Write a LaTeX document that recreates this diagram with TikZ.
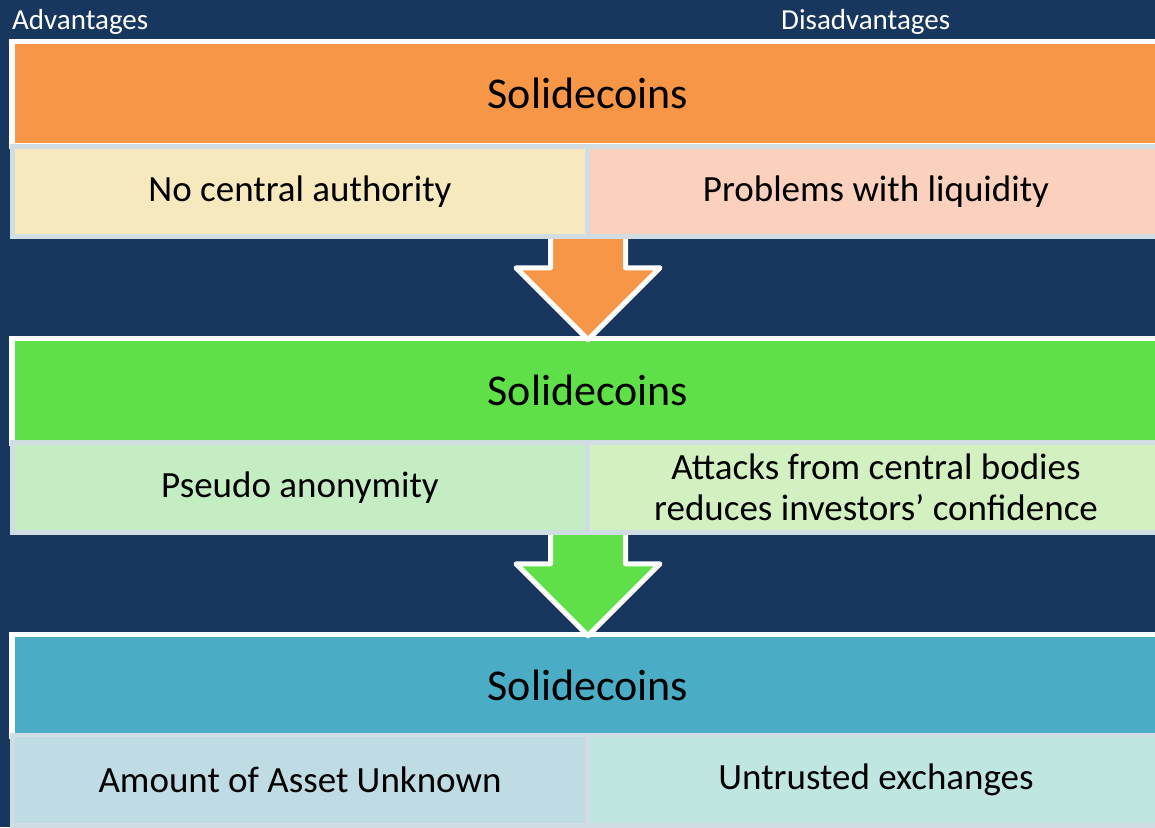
\documentclass[tikz,border=0pt]{standalone}
\usepackage{fontspec}
\setmainfont{Carlito}
\usepackage{tikz}
\usetikzlibrary{calc,positioning}
\definecolor{bgNavy}{RGB}{23,55,94}
\definecolor{stripGray}{RGB}{208,222,228}
\definecolor{headOrange}{RGB}{247,150,70}
\definecolor{headGreen}{RGB}{95,224,72}
\definecolor{headBlue}{RGB}{75,172,198}
\definecolor{cellCream}{RGB}{246,233,189}
\definecolor{cellSalmon}{RGB}{251,209,189}
\definecolor{cellMint}{RGB}{196,237,196}
\definecolor{cellLime}{RGB}{211,241,192}
\definecolor{cellIce}{RGB}{191,220,228}
\definecolor{cellAqua}{RGB}{192,230,226}

\begin{document}
\begin{tikzpicture}[x=1pt,y=-1pt,
  head/.style={rectangle,draw=white,line width=5.5pt,inner sep=0pt,
               minimum width=1152pt,font=\fontsize{44}{53}\selectfont},
  strip/.style={rectangle,fill=stripGray,inner sep=0pt,minimum width=1156pt},
  cell/.style={rectangle,inner sep=0pt,align=center,
               font=\fontsize{37}{41}\selectfont},
  side/.style={text=white,inner sep=0pt,anchor=base west,
               font=\fontsize{29}{35}\selectfont},
  downarr/.style={draw=white,line width=5pt,line join=round}
]
  \useasboundingbox (0,0) rectangle (1155,827);
  \clip (0,0) rectangle (1155,827);
  \fill[bgNavy] (0,0) rectangle (1155,827);

  \node[side](adv) at (12,29) {Advantages};
  \node[side](dis) at (781,29) {Disadvantages};

  % first stage
  \node[head,fill=headOrange,minimum height=104.5pt](h1) at (588,93.75) {Solidecoins};
  \node[strip,minimum height=95pt](s1) at (588,191.5) {};
  \node[cell,fill=cellCream,minimum width=570pt,minimum height=85pt](a1) at (300,191.5) {No central authority};
  \node[cell,fill=cellSalmon,minimum width=572pt,minimum height=85pt](d1) at (876,191.5) {Problems with liquidity};

  % second stage
  \node[head,fill=headGreen,minimum height=104.5pt](h2) at (588,390.75) {Solidecoins};
  \node[strip,minimum height=95pt](s2) at (588,487.5) {};
  \node[cell,fill=cellMint,minimum width=570pt,minimum height=85pt](a2) at (300,487.5) {Pseudo anonymity};
  \node[cell,fill=cellLime,minimum width=572pt,minimum height=85pt](d2) at (876,487.5) {Attacks from central bodies\\reduces investors’ confidence};

  % third stage
  \node[head,fill=headBlue,minimum height=101.5pt](h3) at (588,685.25) {Solidecoins};
  \node[strip,minimum height=97pt](s3) at (588,781.5) {};
  \node[cell,fill=cellIce,minimum width=570pt,minimum height=86pt](a3) at (300,780) {Amount of Asset Unknown};
  \node[cell,fill=cellAqua,minimum width=572pt,minimum height=86pt](d3) at (876,780) {Untrusted exchanges};

  % block arrows between the stages
  \coordinate (t1) at ($(h2.north)+(0,4)$);
  \coordinate (t2) at ($(h3.north)+(0,4)$);
  \filldraw[downarr,fill=headOrange]
    ($(s1.south)+(-37.5,0)$) |- ($(t1)+(-72,-72)$) -- (t1)
    -- ($(t1)+(72,-72)$) -| ($(s1.south)+(37.5,0)$);
  \filldraw[downarr,fill=headGreen]
    ($(s2.south)+(-37.5,0)$) |- ($(t2)+(-72,-72)$) -- (t2)
    -- ($(t2)+(72,-72)$) -| ($(s2.south)+(37.5,0)$);
\end{tikzpicture}
\end{document}
